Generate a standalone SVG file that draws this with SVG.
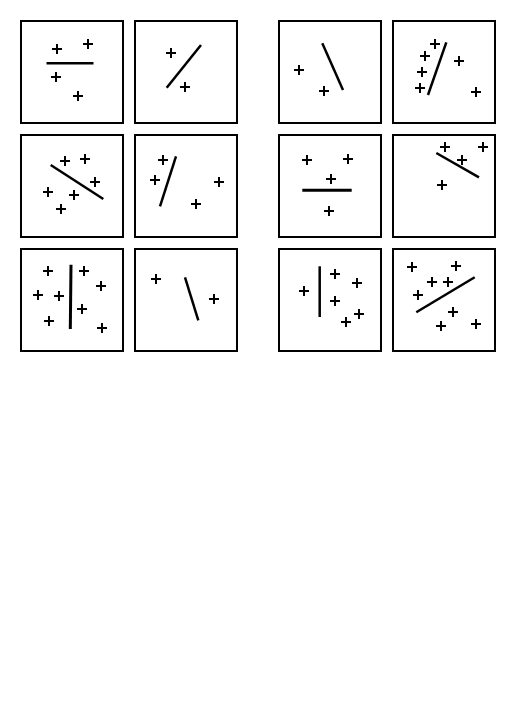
<svg xmlns="http://www.w3.org/2000/svg" xmlns:xlink="http://www.w3.org/1999/xlink" width="526" height="704" viewBox="0 0 526 704">
<style>
.box{fill:#fff;stroke:#000;stroke-width:2}
.ln{stroke:#000;stroke-width:2.5;stroke-linecap:butt;fill:none}
.p{stroke:#000;stroke-width:2;fill:none}
</style>
<defs>
<path id="pl" class="p" d="M-5,0H5M0,-5V5"/>
</defs>
<rect width="526" height="704" fill="#fff"/>
<g id="box1">
<rect class="box" x="21" y="21" width="102" height="102"/>
<line class="ln" x1="46.5" y1="63.3" x2="93.5" y2="63.3"/>
<use xlink:href="#pl" x="57" y="49"/><use xlink:href="#pl" x="88" y="44"/><use xlink:href="#pl" x="56" y="77"/><use xlink:href="#pl" x="78" y="96"/>
</g>
<g id="box2">
<rect class="box" x="135" y="21" width="102" height="102"/>
<line class="ln" x1="166.7" y1="87.7" x2="201" y2="45"/>
<use xlink:href="#pl" x="171" y="53"/><use xlink:href="#pl" x="185" y="87"/>
</g>
<g id="box3">
<rect class="box" x="279" y="21" width="102" height="102"/>
<line class="ln" x1="322.3" y1="43.3" x2="343" y2="90"/>
<use xlink:href="#pl" x="299" y="70"/><use xlink:href="#pl" x="324" y="91"/>
</g>
<g id="box4">
<rect class="box" x="393" y="21" width="102" height="102"/>
<line class="ln" x1="446.3" y1="42.3" x2="428" y2="95"/>
<use xlink:href="#pl" x="435" y="44"/><use xlink:href="#pl" x="425" y="56"/><use xlink:href="#pl" x="422" y="72"/><use xlink:href="#pl" x="420" y="88"/><use xlink:href="#pl" x="459" y="61"/><use xlink:href="#pl" x="476" y="92"/>
</g>
<g id="box5">
<rect class="box" x="21" y="135" width="102" height="102"/>
<line class="ln" x1="50.7" y1="165" x2="103.3" y2="199"/>
<use xlink:href="#pl" x="65" y="161"/><use xlink:href="#pl" x="85" y="159"/><use xlink:href="#pl" x="95" y="182"/><use xlink:href="#pl" x="48" y="192"/><use xlink:href="#pl" x="74" y="195"/><use xlink:href="#pl" x="61" y="209"/>
</g>
<g id="box6">
<rect class="box" x="135" y="135" width="102" height="102"/>
<line class="ln" x1="176" y1="156.3" x2="160" y2="206.3"/>
<use xlink:href="#pl" x="163" y="160"/><use xlink:href="#pl" x="155" y="180"/><use xlink:href="#pl" x="219" y="182"/><use xlink:href="#pl" x="196" y="204"/>
</g>
<g id="box7">
<rect class="box" x="279" y="135" width="102" height="102"/>
<line class="ln" style="stroke-width:3" x1="302.3" y1="190.3" x2="351.7" y2="190.3"/>
<use xlink:href="#pl" x="307" y="160"/><use xlink:href="#pl" x="348" y="159"/><use xlink:href="#pl" x="331" y="179"/><use xlink:href="#pl" x="329" y="211"/>
</g>
<g id="box8">
<rect class="box" x="393" y="135" width="102" height="102"/>
<line class="ln" x1="436.3" y1="153" x2="479" y2="177.3"/>
<use xlink:href="#pl" x="445" y="147"/><use xlink:href="#pl" x="483" y="147"/><use xlink:href="#pl" x="462" y="160"/><use xlink:href="#pl" x="442" y="185"/>
</g>
<g id="box9">
<rect class="box" x="21" y="249" width="102" height="102"/>
<line class="ln" style="stroke-width:3" x1="71" y1="264.7" x2="70.3" y2="329"/>
<use xlink:href="#pl" x="48" y="271"/><use xlink:href="#pl" x="84" y="271"/><use xlink:href="#pl" x="38" y="295"/><use xlink:href="#pl" x="59" y="296"/><use xlink:href="#pl" x="101" y="286"/><use xlink:href="#pl" x="82" y="309"/><use xlink:href="#pl" x="49" y="321"/><use xlink:href="#pl" x="102" y="328"/>
</g>
<g id="box10">
<rect class="box" x="135" y="249" width="102" height="102"/>
<line class="ln" x1="185" y1="277.3" x2="198.3" y2="320.3"/>
<use xlink:href="#pl" x="156" y="279"/><use xlink:href="#pl" x="214" y="299"/>
</g>
<g id="box11">
<rect class="box" x="279" y="249" width="102" height="102"/>
<line class="ln" x1="319.7" y1="266.3" x2="319.7" y2="317"/>
<use xlink:href="#pl" x="304" y="291"/><use xlink:href="#pl" x="335" y="274"/><use xlink:href="#pl" x="357" y="283"/><use xlink:href="#pl" x="335" y="301"/><use xlink:href="#pl" x="359" y="314"/><use xlink:href="#pl" x="346" y="322"/>
</g>
<g id="box12">
<rect class="box" x="393" y="249" width="102" height="102"/>
<line class="ln" x1="416.3" y1="312.3" x2="474.7" y2="277.3"/>
<use xlink:href="#pl" x="412" y="267"/><use xlink:href="#pl" x="456" y="266"/><use xlink:href="#pl" x="432" y="282"/><use xlink:href="#pl" x="448" y="282"/><use xlink:href="#pl" x="418" y="295"/><use xlink:href="#pl" x="453" y="312"/><use xlink:href="#pl" x="441" y="326"/><use xlink:href="#pl" x="476" y="324"/>
</g>
<g id="connectors"></g>
</svg>
